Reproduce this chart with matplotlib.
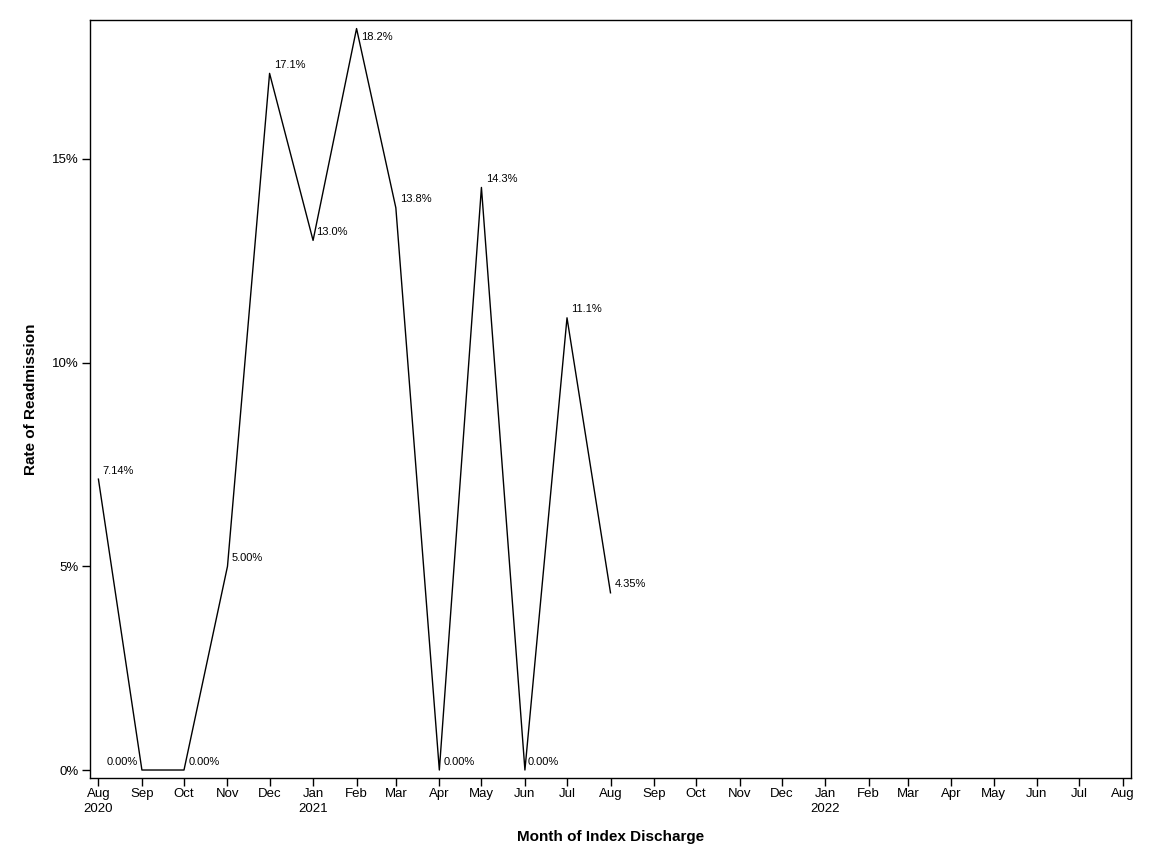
import numpy as np
import pandas as pd
import matplotlib
matplotlib.use("Agg")
import matplotlib.pyplot as plt
import matplotlib.dates as mdates
from matplotlib.ticker import FuncFormatter

plt.rcParams['font.family'] = ['Liberation Sans', 'DejaVu Sans']

# readmission rate by month of index discharge (%)
months = pd.date_range("2020-08-01", "2021-08-01", freq="MS")
rates = [7.14, 0.0, 0.0, 5.00, 17.1, 13.0, 18.2, 13.8, 0.0, 14.3, 0.0, 11.1, 4.35]
labels = ["7.14%", "0.00%", "0.00%", "5.00%", "17.1%", "13.0%", "18.2%",
          "13.8%", "0.00%", "14.3%", "0.00%", "11.1%", "4.35%"]
tick_months = pd.date_range("2020-08-01", "2022-08-01", freq="MS")

# label placement (offset in points, horizontal alignment)
place = [(3, 6, "left"), (-3, 6, "right"), (3, 6, "left"), (3, 6, "left"),
         (3, 6, "left"), (2, 6, "left"), (3, -6, "left"), (3, 6, "left"),
         (3, 6, "left"), (3, 6, "left"), (2, 6, "left"), (3, 6, "left"),
         (3, 6, "left")]

fig = plt.figure(figsize=(11.52, 8.64), dpi=100)
ax = fig.add_axes([90/1152, 1 - 778/864, (1131-90)/1152, (778-20)/864])

ax.plot(months, rates, color="black", lw=1)
for m, r, lab, (dx, dy, ha) in zip(months, rates, labels, place):
    ax.annotate(lab, (m, r), xytext=(dx, dy), textcoords="offset points",
                ha=ha, va="center", fontsize=8)

ax.set_xlim(pd.Timestamp("2020-07-26"), pd.Timestamp("2022-08-07"))
ax.set_ylim(-0.196, 18.41)

ax.set_xticks(tick_months)
ax.set_xticklabels([d.strftime("%b") + ("\n%d" % d.year if d.month == 1 or i == 0 else "")
                    for i, d in enumerate(tick_months)], linespacing=1.35)
ax.set_yticks([0, 5, 10, 15])
ax.yaxis.set_major_formatter(FuncFormatter(lambda v, p: "%d%%" % v))
ax.tick_params(direction="out", length=6, width=1, labelsize=9.5, pad=2)
ax.tick_params(axis="x", pad=1)

for s in ax.spines.values():
    s.set_linewidth(1)

ax.set_xlabel("Month of Index Discharge", fontsize=11, fontweight="bold", labelpad=11)
ax.set_ylabel("Rate of Readmission", fontsize=11, fontweight="bold", labelpad=10)

fig.savefig("out.png", dpi=100)
